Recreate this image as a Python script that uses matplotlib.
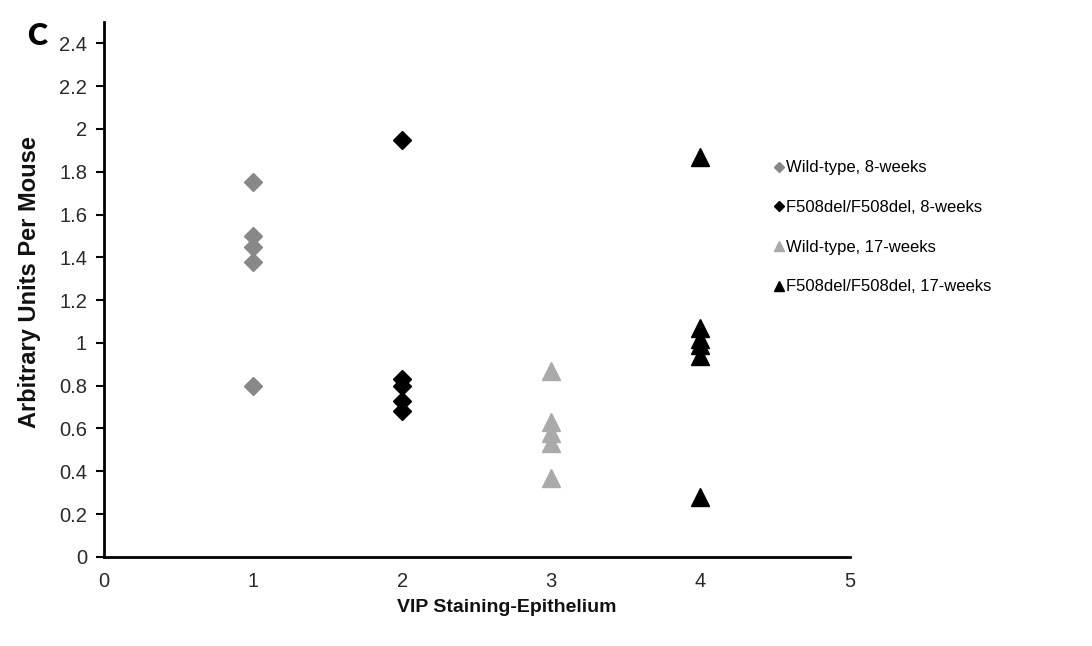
import matplotlib.pyplot as plt
from matplotlib.lines import Line2D

plt.rcParams['font.family'] = ['Liberation Sans', 'DejaVu Sans']

# VIP staining score (x) vs arbitrary units per mouse (y)
wt8_x = [1, 1, 1, 1, 1]
wt8_y = [1.75, 1.50, 1.45, 1.38, 0.80]
cf8_x = [2, 2, 2, 2, 2]
cf8_y = [1.95, 0.83, 0.80, 0.73, 0.68]
wt17_x = [3, 3, 3, 3, 3]
wt17_y = [0.87, 0.63, 0.58, 0.53, 0.37]
cf17_x = [4, 4, 4, 4, 4, 4]
cf17_y = [1.87, 1.07, 1.02, 0.99, 0.94, 0.28]

labels = ['Wild-type, 8-weeks', 'F508del/F508del, 8-weeks',
          'Wild-type, 17-weeks', 'F508del/F508del, 17-weeks']
colors = ['#888888', '#000000', '#aaaaaa', '#000000']
markers = ['D', 'D', '^', '^']
sizes = [9, 9, 13, 13]

fig = plt.figure(figsize=(10.92, 6.46), dpi=100)
ax = fig.add_axes([0.095, 0.138, 0.683, 0.828])

series = [(wt8_x, wt8_y), (cf8_x, cf8_y), (wt17_x, wt17_y), (cf17_x, cf17_y)]
for (xs, ys), c, m, s in zip(series, colors, markers, sizes):
    ax.plot(xs, ys, linestyle='none', marker=m, ms=s, color=c, mec=c)

ax.set_xlim(0, 5)
ax.set_ylim(0, 2.5)
ax.set_yticks([i * 0.2 for i in range(13)])
ax.set_yticklabels(['0', '0.2', '0.4', '0.6', '0.8', '1', '1.2', '1.4', '1.6',
                    '1.8', '2', '2.2', '2.4'])
ax.set_xticks([0, 1, 2, 3, 4, 5])
ax.tick_params(axis='x', length=0, pad=11, labelsize=14.5, labelcolor='#2a2a2a')
ax.tick_params(axis='y', length=6, width=1.5, direction='out', pad=6,
               labelsize=14.5, labelcolor='#2a2a2a')
for side in ['top', 'right']:
    ax.spines[side].set_visible(False)
for side in ['left', 'bottom']:
    ax.spines[side].set_linewidth(2)

ax.set_xlabel('VIP Staining-Epithelium', fontsize=14, fontweight='bold',
              color='#111111')
ax.xaxis.set_label_coords(0.54, -0.078)
ax.set_ylabel('Arbitrary Units Per Mouse', fontsize=17, fontweight='bold',
              color='#111111')
ax.yaxis.set_label_coords(-0.084, 0.514)

handles = [Line2D([], [], linestyle='none', marker=m, ms=s * 0.6, color=c, mec=c)
           for c, m, s in zip(colors, markers, sizes)]
fig.legend(handles, labels, loc='upper left', bbox_to_anchor=(0.695, 0.775),
           frameon=False, fontsize=12, handlelength=0.6, handletextpad=0.15,
           labelspacing=1.48)

fig.text(0.025, 0.93, 'C', fontsize=22, fontweight='heavy',
         family=['Lato', 'DejaVu Sans'])

fig.savefig('out.png', dpi=100)
